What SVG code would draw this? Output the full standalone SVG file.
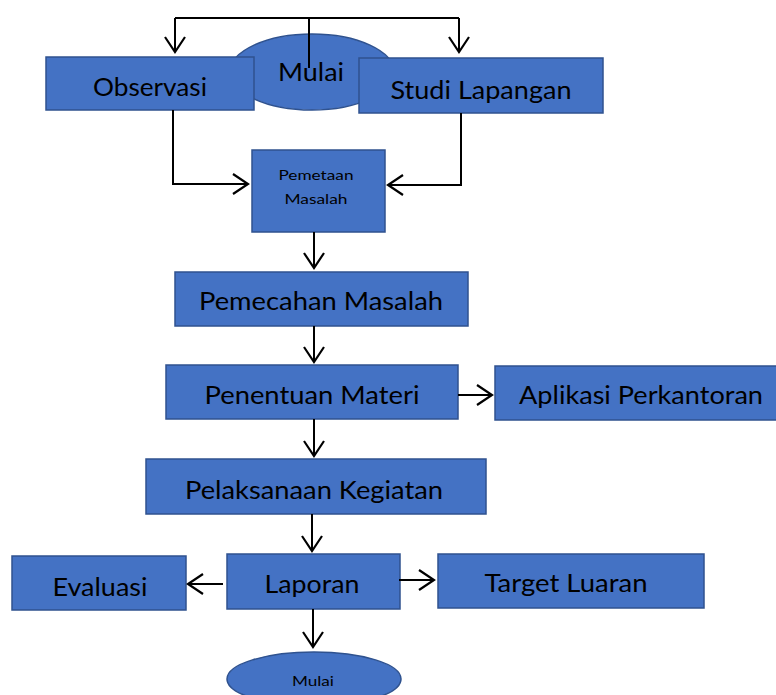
<svg xmlns="http://www.w3.org/2000/svg" width="776" height="695" viewBox="0 0 776 695">
<defs>
<style>
.box{fill:#4472C4;stroke:#2F528F;stroke-width:1.5}
.t{font-family:Lato,"Open Sans",sans-serif;font-size:25px;fill:#000;text-anchor:middle}
.s{font-family:Lato,"Open Sans",sans-serif;font-size:14px;fill:#000;text-anchor:middle}
.c{fill:none;stroke:#000;stroke-width:2}
</style>
<marker id="ah" markerWidth="30" markerHeight="30" refX="15" refY="15" orient="auto" markerUnits="userSpaceOnUse" overflow="visible">
<path d="M0,5 L15,15 L0,25" fill="none" stroke="#000" stroke-width="2.2"/>
</marker>
</defs>
<rect width="776" height="695" fill="#fff"/>
<g id="mulai-top"><ellipse class="box" cx="312" cy="72" rx="82" ry="38"/><text class="t" x="311" y="81" textLength="66" lengthAdjust="spacingAndGlyphs">Mulai</text></g>
<g id="observasi"><rect class="box" x="46" y="57" width="208" height="53"/><text class="t" x="150" y="96" textLength="114" lengthAdjust="spacingAndGlyphs">Observasi</text></g>
<g id="studi"><rect class="box" x="359" y="58" width="244" height="55"/><text class="t" x="481" y="99" textLength="181" lengthAdjust="spacingAndGlyphs">Studi Lapangan</text></g>
<g id="pemetaan"><rect class="box" x="252" y="150" width="133" height="82"/><text class="s" x="316" y="180" textLength="75" lengthAdjust="spacingAndGlyphs">Pemetaan</text><text class="s" x="316" y="204" textLength="63" lengthAdjust="spacingAndGlyphs">Masalah</text></g>
<g id="pemecahan"><rect class="box" x="175" y="272" width="293" height="54"/><text class="t" x="321" y="310" textLength="244" lengthAdjust="spacingAndGlyphs">Pemecahan Masalah</text></g>
<g id="penentuan"><rect class="box" x="166" y="365" width="292" height="54"/><text class="t" x="312" y="404" textLength="215" lengthAdjust="spacingAndGlyphs">Penentuan Materi</text></g>
<g id="aplikasi"><rect class="box" x="495" y="366" width="283" height="54"/><text class="t" x="641" y="404" textLength="244" lengthAdjust="spacingAndGlyphs">Aplikasi Perkantoran</text></g>
<g id="pelaksanaan"><rect class="box" x="146" y="459" width="340" height="55"/><text class="t" x="314" y="499" textLength="258" lengthAdjust="spacingAndGlyphs">Pelaksanaan Kegiatan</text></g>
<g id="laporan"><rect class="box" x="227" y="554" width="173" height="55"/><text class="t" x="312" y="593" textLength="95" lengthAdjust="spacingAndGlyphs">Laporan</text></g>
<g id="evaluasi"><rect class="box" x="12" y="556" width="174" height="54"/><text class="t" x="100" y="596" textLength="95" lengthAdjust="spacingAndGlyphs">Evaluasi</text></g>
<g id="target"><rect class="box" x="438" y="554" width="266" height="54"/><text class="t" x="566" y="592" textLength="163" lengthAdjust="spacingAndGlyphs">Target Luaran</text></g>
<g id="mulai-bottom"><ellipse class="box" cx="314" cy="679" rx="87" ry="27"/><text class="s" x="313" y="686" textLength="42" lengthAdjust="spacingAndGlyphs">Mulai</text></g>
<g id="connectors">
<path class="c" d="M309,68 V18"/>
<path class="c" d="M175,18 H459"/>
<path class="c" d="M175,18 V52" marker-end="url(#ah)"/>
<path class="c" d="M459,18 V52" marker-end="url(#ah)"/>
<path class="c" d="M173,110 V184 H248" marker-end="url(#ah)"/>
<path class="c" d="M461,113 V185 H388" marker-end="url(#ah)"/>
<path class="c" d="M314,232 V268" marker-end="url(#ah)"/>
<path class="c" d="M314,326 V362" marker-end="url(#ah)"/>
<path class="c" d="M458,395 H492" marker-end="url(#ah)"/>
<path class="c" d="M314,419 V456" marker-end="url(#ah)"/>
<path class="c" d="M312,514 V551" marker-end="url(#ah)"/>
<path class="c" d="M223,584 H188" marker-end="url(#ah)"/>
<path class="c" d="M399,580 H434" marker-end="url(#ah)"/>
<path class="c" d="M313,609 V647" marker-end="url(#ah)"/>
</g>
</svg>
